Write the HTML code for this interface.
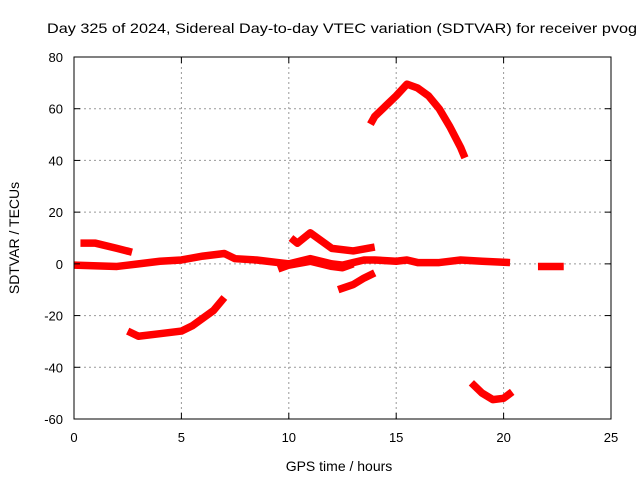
<!DOCTYPE html>
<html><head><meta charset="utf-8"><style>
body{margin:0;background:#fff}
svg{font-family:"Liberation Sans",sans-serif;font-size:13px}
</style></head><body>
<svg width="640" height="480">
<text x="47" y="33" font-size="14" textLength="590" lengthAdjust="spacingAndGlyphs">Day 325 of 2024, Sidereal Day-to-day VTEC variation (SDTVAR) for receiver pvog</text>
<g id="grid"></g>
<g id="series"></g>
<rect x="74" y="57" width="537" height="362" fill="none" stroke="#000"/>
<g id="ticks"></g>
<text x="339" y="471" text-anchor="middle" font-size="14">GPS time / hours</text>
<text transform="translate(19,238) rotate(-90)" text-anchor="middle" font-size="14">SDTVAR / TECUs</text>
</svg>
<script>
const xTicks=[0,5,10,15,20,25];
const yTicks=[-60,-40,-20,0,20,40,60,80];
const segMain=[[0,-0.5],[2,-1],[3,0],[4,1],[5,1.5],[6,3],[7,4],[7.5,2],[8.5,1.5],[9.5,0.5],[10,0],[10.5,1],[11,2],[11.5,1],[12,0],[12.5,-0.5],[13,0.5],[13.5,1.5],[14,1.5],[15,1],[15.5,1.5],[16,0.5],[17,0.5],[18,1.5],[19,1],[20.3,0.5]];
const segLow=[[9.5,-2],[10,-0.5],[11,1],[12,-1],[12.5,-1.5],[13,0]];
const segEarly=[[0.3,8],[1,8],[2,6],[2.7,4.5]];
const segDip=[[2.5,-26],[3,-28],[4,-27],[5,-26],[5.5,-24],[6,-21],[6.5,-18],[7,-13]];
const segHump=[[10.1,10],[10.4,8],[11,12],[11.5,9],[12,6],[13,5],[14,6.5]];
const segRise=[[12.3,-10],[13,-8],[13.5,-5.5],[14,-3.5]];
const segPeak=[[13.8,54],[14,57],[14.5,61],[15,65],[15.5,69.5],[16,68],[16.5,65],[17,60],[17.5,53],[18,45],[18.2,41]];
const segTrough=[[18.5,-46],[19,-50],[19.5,-52.5],[20,-52],[20.4,-49.5]];
const segLate=[[21.6,-1],[22.8,-1]];
const segments=[segMain,segLow,segEarly,segDip,segHump,segRise,segPeak,segTrough,segLate];
const X=v=>74+v*537/25, Y=v=>419-(v+60)*362/140;
const NS='http://www.w3.org/2000/svg';
function mk(t,a,p){const e=document.createElementNS(NS,t);for(const k in a)e.setAttribute(k,a[k]);p.appendChild(e);return e;}
const grid=document.getElementById('grid'),ticks=document.getElementById('ticks'),ser=document.getElementById('series');
xTicks.forEach(v=>{
 if(v>0&&v<25){const l=mk('line',{x1:X(v),x2:X(v),y1:57,y2:419,stroke:'#999','stroke-dasharray':'2,3'},grid);
 }
 mk('line',{x1:X(v),x2:X(v),y1:419,y2:413,stroke:'#000'},ticks);mk('line',{x1:X(v),x2:X(v),y1:57,y2:63,stroke:'#000'},ticks);
 const t=mk('text',{x:X(v),y:442,'text-anchor':'middle'},ticks);t.textContent=v;
 
});
yTicks.forEach(v=>{
 if(v>-60&&v<80){const l=mk('line',{x1:74,x2:611,y1:Y(v),y2:Y(v),stroke:'#999','stroke-dasharray':'2,3'},grid);
 }
 mk('line',{x1:74,x2:80,y1:Y(v),y2:Y(v),stroke:'#000'},ticks);mk('line',{x1:611,x2:605,y1:Y(v),y2:Y(v),stroke:'#000'},ticks);
 const t=mk('text',{x:63,y:Y(v)+5,'text-anchor':'end'},ticks);t.textContent=v;
 
});
segments.forEach(s=>{
 const p=mk('polyline',{points:s.map(d=>X(d[0])+','+Y(d[1])).join(' '),fill:'none',stroke:'#f00','stroke-width':7.5,'stroke-linejoin':'round'},ser);
 
 
});
</script>
</body></html>
